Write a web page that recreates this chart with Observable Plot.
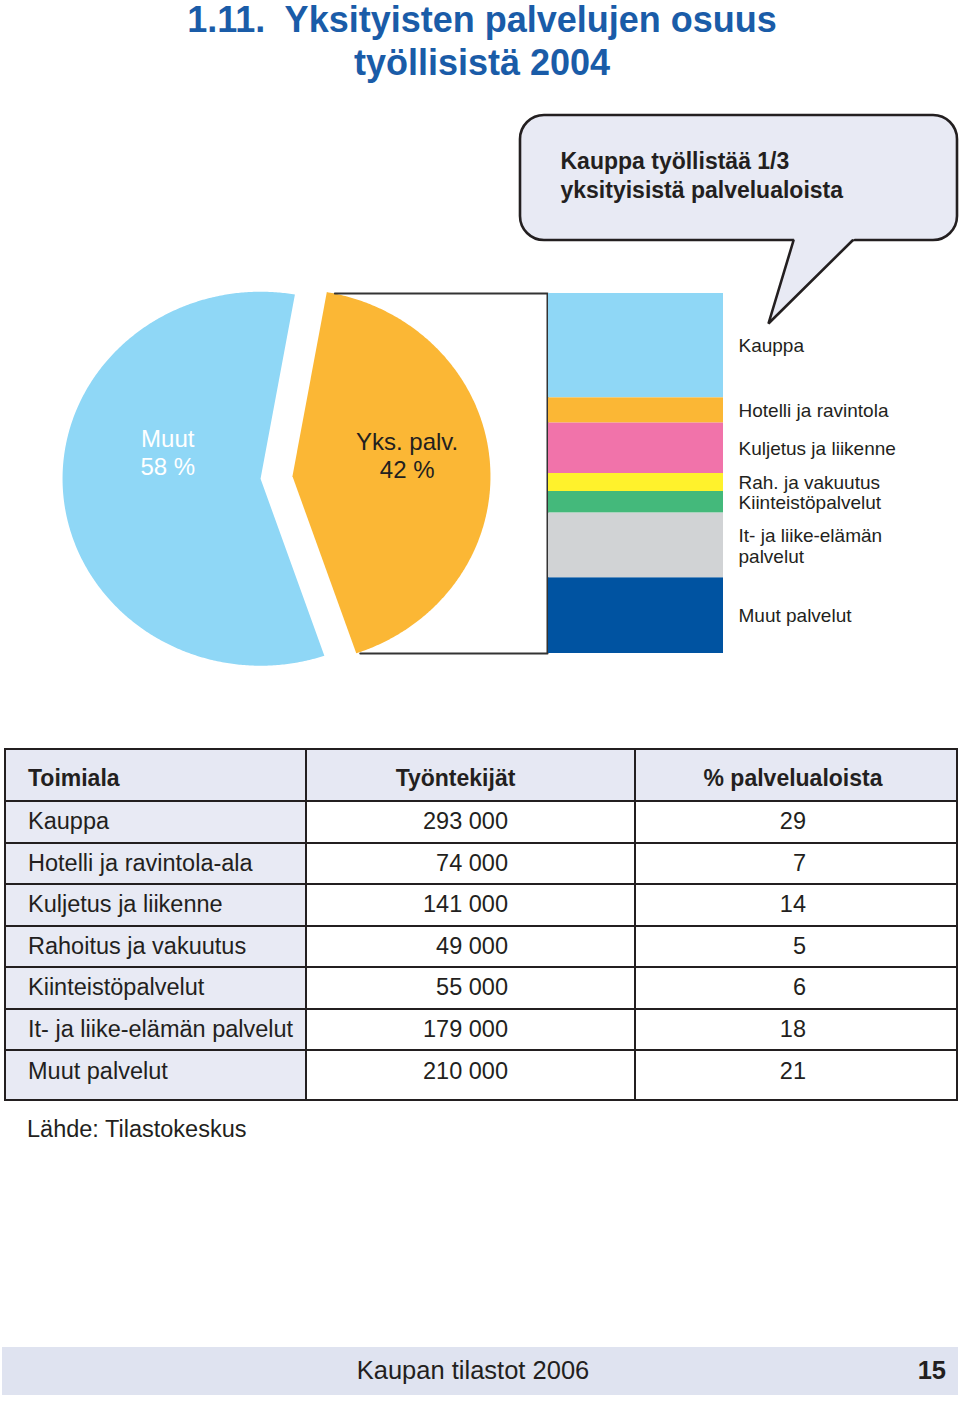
<!DOCTYPE html>
<html><head><meta charset="utf-8">
<script src="https://cdn.jsdelivr.net/npm/d3@7"></script>
<script src="https://cdn.jsdelivr.net/npm/@observablehq/plot@0.6"></script>
<style>
  body{margin:0;background:#fff;font-family:"Liberation Sans",Arial,Helvetica,sans-serif;color:#231f20}
  #page{position:relative;width:960px;height:1404px;overflow:hidden;background:#fff}
  #title{position:absolute;left:0;top:-2px;width:964px;text-align:center;font-weight:bold;font-size:36px;line-height:43px;color:#1a5ca8;white-space:pre}
  #chart{position:absolute;left:0;top:100px}
  #tbl{position:absolute;left:4px;top:748px;border-collapse:collapse;table-layout:fixed;width:952px}
  #tbl td,#tbl th{border:2.5px solid #231f20;padding:0;font-size:23.5px;line-height:1;white-space:nowrap;overflow:hidden}
  #tbl th{background:#e6e8f3;font-weight:bold;font-size:23px;text-align:center;height:44px;padding-top:6px}
  #tbl th.c1{text-align:left;padding-left:22px}
  #tbl th.c2{padding-right:30px}
  #tbl th.c3{padding-right:6px}
  #tbl td{height:39.5px;background:#fff}
  #tbl td.c1{background:#e8eaf4;text-align:left;padding-left:22px}
  #tbl td.c2{text-align:right;padding-right:126px}
  #tbl td.c3{text-align:right;padding-right:150px}
  #tbl tr.last td{height:39px;vertical-align:top;padding-top:9px}
  #source{position:absolute;left:27px;top:1118px;font-size:23.5px;line-height:1}
  #footer{position:absolute;left:2px;top:1347px;width:956px;height:48px;background:#dfe3f0}
  #footer .t{position:absolute;left:0;width:942px;text-align:center;top:11px;font-size:25.5px;line-height:1}
  #footer .n{position:absolute;right:12px;top:11px;font-size:25.5px;line-height:1;font-weight:bold}
</style>
</head><body>
<div id="page">
  <div id="title"></div>
  <div id="chart"></div>
  <table id="tbl"></table>
  <div id="source"></div>
  <div id="footer"><div class="t"></div><div class="n"></div></div>
</div>
<script>
// ---------- data ----------
const titleLines = ["1.11.  Yksityisten palvelujen osuus", "työllisistä 2004"];
const calloutText = "Kauppa työllistää 1/3\nyksityisistä palvelualoista";
const pieNames = ["Yks. palv.", "Muut"];
const piePct = [42, 58];
const sectorNames = ["Kauppa", "Hotelli ja ravintola-ala", "Kuljetus ja liikenne", "Rahoitus ja vakuutus", "Kiinteistöpalvelut", "It- ja liike-elämän palvelut", "Muut palvelut"];
const sectorLabels = ["Kauppa", "Hotelli ja ravintola", "Kuljetus ja liikenne", "Rah. ja vakuutus", "Kiinteistöpalvelut", "It- ja liike-elämän\npalvelut", "Muut palvelut"];
const sectorWorkers = [293000, 74000, 141000, 49000, 55000, 179000, 210000];
const sectorPct = [29, 7, 14, 5, 6, 18, 21];
const tableHeader = ["Toimiala", "Työntekijät", "% palvelualoista"];
const sourceText = "Lähde: Tilastokeskus";
const footerText = "Kaupan tilastot 2006";
const pageNumber = "15";

// ---------- styles ----------
const sectorColors = ["#8fd7f6", "#fbb735", "#f173aa", "#fff22c", "#44b97b", "#d1d3d5", "#0053a1"];
const pieColors = ["#fbb735", "#8fd7f6"];
const pieTextColors = ["#231f20", "#ffffff"];
const ink = "#231f20";
const bubbleFill = "#e8eaf4";

// ---------- layout ----------
const SVG_TOP = 100, SVG_H = 580;
const BAR_TOP = 293, BAR_BOTTOM = 653, BAR_X1 = 548, BAR_X2 = 723, LABEL_X = 738;
const yU = p => (p - BAR_TOP) / (BAR_BOTTOM - BAR_TOP) * 100;   // page px -> y units
const PIE_C = {x: 276, y: 477}, RX = 198, RY = 187, EXPLODE = 16;
const START = 10 * Math.PI / 180;
const LABEL_POLAR = [[79, 0.59], [287, 0.49]];
const rad = d => d * Math.PI / 180;

// ---------- html parts ----------
document.getElementById("title").textContent = titleLines.join("\n");
document.getElementById("source").textContent = sourceText;
document.querySelector("#footer .t").textContent = footerText;
document.querySelector("#footer .n").textContent = pageNumber;

const fmt = d3.formatLocale({decimal: ",", thousands: " ", grouping: [3], currency: ["", " €"]}).format(",");
const tbl = document.getElementById("tbl");
let html = '<colgroup><col style="width:301px"><col style="width:329px"><col style="width:322px"></colgroup>';
html += '<tr>' + tableHeader.map((h, i) => `<th class="c${i+1}">${h}</th>`).join("") + '</tr>';
sectorNames.forEach((n, i) => {
  html += `<tr class="${i === sectorNames.length - 1 ? "last" : ""}"><td class="c1">${n}</td><td class="c2">${fmt(sectorWorkers[i])}</td><td class="c3">${sectorPct[i]}</td></tr>`;
});
tbl.innerHTML = html;

// ---------- pie geometry ----------
const arcs = d3.pie().sort(null).startAngle(START).endAngle(START + 2 * Math.PI)(piePct);
const slices = arcs.map((a, i) => {
  const mid = (a.startAngle + a.endAngle) / 2;
  const cx = PIE_C.x + EXPLODE * Math.sin(mid);
  const cy = PIE_C.y - EXPLODE * Math.cos(mid);
  const pts = [{x: cx, y: yU(cy)}];
  const n = Math.ceil((a.endAngle - a.startAngle) / rad(0.5));
  for (let k = 0; k <= n; k++) {
    const t = a.startAngle + (a.endAngle - a.startAngle) * k / n;
    pts.push({x: cx + RX * Math.sin(t), y: yU(cy - RY * Math.cos(t))});
  }
  const [ang, f] = LABEL_POLAR[i];
  const label = {
    x: cx + f * RX * Math.sin(rad(ang)),
    y: yU(cy - f * RY * Math.cos(rad(ang))),
    text: `${pieNames[i]}\n${piePct[i]} %`
  };
  const first = {x: cx + RX * Math.sin(a.startAngle), y: cy - RY * Math.cos(a.startAngle)};
  const last = {x: cx + RX * Math.sin(a.endAngle), y: cy - RY * Math.cos(a.endAngle)};
  return {pts, label, first, last};
});

const sectors = sectorNames.map((name, i) => ({name, label: sectorLabels[i], pct: sectorPct[i]}));
const yks = slices[0];
const bracket = [
  {x: yks.first.x + 8, y: 0},
  {x: BAR_X1 - 1, y: 0},
  {x: BAR_X1 - 1, y: 100},
  {x: yks.last.x + 4, y: 100}
];

// callout bubble
const bubble = {x1: 520, x2: 957, y1: yU(115), y2: yU(240)};
const pointerFill = [{x: 794, y: yU(236.5)}, {x: 855.5, y: yU(236.5)}, {x: 768, y: yU(323)}];
const pointerEdge = [{x: 793, y: yU(240)}, {x: 768, y: yU(323)}, {x: 852, y: yU(240)}];

const chart = Plot.plot({
  width: 960, height: SVG_H, margin: 0,
  x: {type: "linear", domain: [0, 960], range: [0, 960], axis: null},
  y: {type: "linear", domain: [0, 100], range: [BAR_TOP - SVG_TOP, BAR_BOTTOM - SVG_TOP], axis: null},
  color: {type: "ordinal", domain: sectorNames, range: sectorColors},
  style: {fontFamily: '"Liberation Sans", Arial, sans-serif', background: "transparent", overflow: "visible"},
  marks: [
    // callout
    Plot.rect([bubble], {x1: "x1", x2: "x2", y1: "y1", y2: "y2", rx: 24, fill: bubbleFill, stroke: ink, strokeWidth: 2.6}),
    Plot.line(pointerFill, {x: "x", y: "y", fill: bubbleFill, stroke: "none"}),
    Plot.line(pointerEdge, {x: "x", y: "y", fill: "none", stroke: ink, strokeWidth: 2.6, strokeLinejoin: "miter"}),
    Plot.text([calloutText], {x: 560, y: yU(173.3), text: d => d, textAnchor: "start", fontSize: 23, fontWeight: "bold", lineHeight: 29 / 23, fill: ink}),
    // pie
    ...slices.map((s, i) => Plot.line(s.pts, {x: "x", y: "y", fill: pieColors[i], stroke: "none"})),
    ...slices.map((s, i) => Plot.text([s.label], {x: "x", y: "y", text: "text", fontSize: 24, lineHeight: 28 / 24, fill: pieTextColors[i]})),
    // bracket
    Plot.line(bracket, {x: "x", y: "y", stroke: "#333333", strokeWidth: 2, fill: "none"}),
    // stacked bar
    Plot.rectY(sectors, {x1: BAR_X1, x2: BAR_X2, y: "pct", fill: "name"}),
    Plot.text(sectors, Plot.stackY({x: LABEL_X, y: "pct", text: "label", textAnchor: "start", fontSize: 19, lineHeight: 1.1, fill: ink}))
  ]
});
document.getElementById("chart").appendChild(chart);
</script>
</body></html>
